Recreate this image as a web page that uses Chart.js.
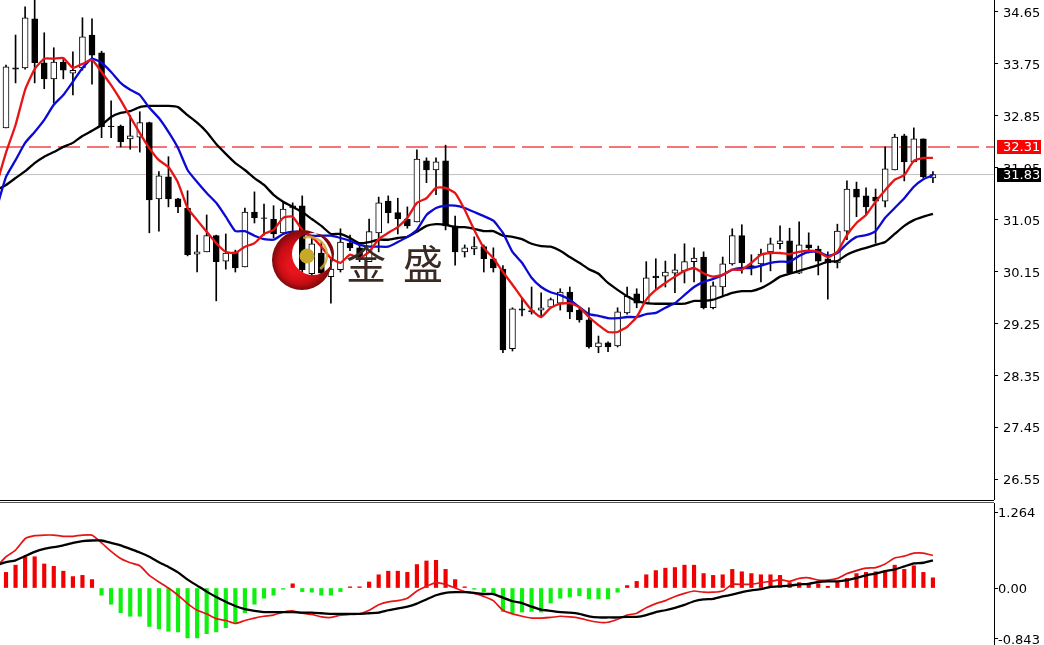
<!DOCTYPE html>
<html>
<head>
<meta charset="utf-8">
<script src="https://cdn.jsdelivr.net/npm/chart.js@4"></script>
<style>
html, body { margin: 0; padding: 0; background: #fff; overflow: hidden; }
canvas { position: absolute; left: 0; }
#priceChart { top: 0; }
#macdChart { top: 503px; }
.sep { position: absolute; left: 0; width: 994px; height: 1px; }
</style>
</head>
<body>
<canvas id="priceChart" width="1044" height="500"></canvas>
<div class="sep" style="top:500px;background:#000"></div>
<div class="sep" style="top:502px;background:#555"></div>
<canvas id="macdChart" width="1044" height="142"></canvas>
<script>
const opens = [32.64,33.68,33.68,34.53,33.77,33.49,33.78,33.59,33.68,34.25,
    33.94,32.67,32.67,32.45,32.48,32.73,31.41,31.79,31.41,31.25,
    30.45,30.49,30.77,30.33,30.49,30.23,31.18,31.08,31.06,30.82,
    31.25,31.29,30.11,30.47,30.06,30.18,30.64,30.56,30.32,30.82,
    31.37,31.17,31.06,31.01,32.07,31.91,32.07,30.94,30.49,30.54,
    30.58,30.37,30.19,28.81,29.50,29.47,29.48,29.53,29.60,29.79,
    29.48,29.31,28.84,28.91,28.86,29.43,29.76,29.60,30.07,30.07,
    30.12,30.16,30.32,30.40,29.52,29.88,30.28,30.77,30.25,30.28,
    30.49,30.63,30.68,30.12,30.61,30.54,30.37,30.30,30.85,31.58,
    31.46,31.44,31.37,31.91,32.50,32.05,32.45,31.77];
const closes = [33.70,33.66,34.55,33.77,33.49,33.78,33.64,33.64,34.22,33.90,
    32.66,32.66,32.40,32.50,32.73,31.39,31.81,31.41,31.27,30.44,
    30.49,30.77,30.32,30.47,30.21,31.18,31.08,31.07,30.80,31.23,
    31.29,30.18,30.63,30.12,30.19,30.66,30.56,30.38,30.84,31.34,
    31.17,31.06,30.94,32.10,31.91,32.05,30.94,30.49,30.56,30.58,
    30.37,30.21,28.79,29.50,29.48,29.45,29.52,29.66,29.79,29.45,
    29.31,28.84,28.91,28.84,29.45,29.72,29.60,30.04,30.04,30.14,
    30.18,30.32,30.38,29.52,29.90,30.28,30.77,30.30,30.21,30.45,
    30.63,30.68,30.12,30.61,30.56,30.33,30.30,30.85,31.58,31.44,
    31.27,31.37,31.93,32.48,32.05,32.45,31.79,31.83];
const highs = [33.73,34.25,34.74,34.86,34.29,34.03,33.85,33.96,34.55,34.53,
    33.97,33.11,32.69,32.86,32.92,32.74,31.88,32.14,31.42,31.55,
    30.78,31.13,30.78,30.80,30.52,31.25,31.53,31.32,31.29,31.36,
    31.34,31.46,30.75,30.66,30.38,30.89,30.78,30.64,31.06,31.44,
    31.46,31.42,31.27,32.26,32.12,32.12,32.34,31.11,30.61,30.75,
    30.61,30.56,30.25,29.52,29.69,29.88,29.78,29.69,29.85,29.88,
    29.52,29.52,29.03,28.93,29.52,29.88,29.85,30.32,30.37,30.33,
    30.45,30.63,30.56,30.49,29.97,30.40,30.89,30.96,30.44,30.54,
    30.73,30.94,30.90,31.01,30.82,30.59,30.49,30.97,31.72,31.70,
    31.60,31.58,32.31,32.53,32.53,32.64,32.45,31.88];
const lows = [32.64,33.42,33.66,33.42,33.32,33.07,33.49,33.21,33.64,33.40,
    32.47,32.47,32.31,32.27,32.22,30.82,30.85,31.27,31.17,30.42,
    30.14,30.49,29.64,30.19,30.14,30.23,30.99,30.78,30.73,30.82,
    30.82,30.14,30.09,30.09,29.60,30.14,30.51,30.32,30.32,30.49,
    30.99,30.80,30.90,31.01,31.69,31.48,30.87,30.26,30.40,30.44,
    30.14,30.14,28.74,28.77,29.38,29.41,29.36,29.52,29.48,29.33,
    29.27,28.82,28.74,28.76,28.84,29.41,29.52,29.59,29.85,29.88,
    29.78,29.95,29.97,29.50,29.50,29.71,30.26,30.12,30.09,29.97,
    30.16,30.54,30.12,30.11,30.47,30.09,29.67,30.21,30.70,31.10,
    31.13,30.64,31.27,31.91,31.72,32.05,31.77,31.69];

// first value of each line belongs to the bar just off the left edge
const maFast = [31.65,32.21,32.69,33.30,33.66,33.84,33.84,33.85,33.68,33.75,33.82,
    33.61,33.38,33.12,32.83,32.55,32.29,32.08,31.96,31.69,31.25,
    31.04,30.84,30.64,30.49,30.47,30.58,30.64,30.80,30.87,31.08,
    31.10,30.87,30.75,30.58,30.38,30.30,30.44,30.38,30.49,30.71,
    30.82,30.92,31.08,31.34,31.42,31.60,31.60,31.51,31.22,30.87,
    30.56,30.38,30.14,29.92,29.69,29.48,29.36,29.52,29.59,29.60,
    29.53,29.36,29.22,29.10,29.10,29.19,29.36,29.66,29.83,29.95,
    30.06,30.16,30.21,30.12,30.06,30.09,30.18,30.18,30.30,30.44,
    30.47,30.47,30.45,30.49,30.51,30.49,30.40,30.49,30.78,30.99,
    31.13,31.36,31.56,31.74,31.82,32.07,32.12,32.12];
const maMid = [31.23,31.79,32.08,32.38,32.57,32.78,33.04,33.21,33.44,33.68,33.84,
    33.77,33.61,33.42,33.30,33.21,32.99,32.81,32.57,32.29,31.91,
    31.70,31.51,31.34,31.10,30.85,30.85,30.77,30.71,30.70,30.80,
    30.84,30.82,30.77,30.77,30.77,30.73,30.68,30.61,30.58,30.58,
    30.58,30.66,30.75,30.87,31.13,31.25,31.29,31.29,31.25,31.18,
    31.11,31.03,30.82,30.49,30.30,30.04,29.88,29.79,29.74,29.66,
    29.53,29.41,29.38,29.34,29.34,29.36,29.36,29.41,29.43,29.52,
    29.60,29.74,29.88,29.97,30.02,30.09,30.18,30.21,30.21,30.25,
    30.30,30.32,30.32,30.42,30.49,30.49,30.42,30.47,30.63,30.75,
    30.78,30.85,31.08,31.25,31.42,31.62,31.75,31.82];
const maSlow = [31.56,31.65,31.77,31.89,32.03,32.14,32.22,32.31,32.38,32.50,32.59,
    32.69,32.83,32.90,32.93,33.00,33.02,33.02,33.02,33.00,32.86,
    32.73,32.57,32.36,32.19,32.03,31.91,31.77,31.65,31.48,31.36,
    31.27,31.18,31.06,30.94,30.80,30.80,30.73,30.64,30.66,30.70,
    30.70,30.73,30.75,30.84,30.94,30.97,30.96,30.92,30.92,30.89,
    30.85,30.85,30.77,30.75,30.71,30.63,30.59,30.58,30.51,30.40,
    30.30,30.19,30.11,29.95,29.83,29.72,29.64,29.60,29.59,29.59,
    29.59,29.59,29.64,29.64,29.66,29.72,29.78,29.81,29.81,29.86,
    29.95,30.06,30.11,30.16,30.21,30.26,30.32,30.33,30.44,30.51,
    30.56,30.61,30.66,30.80,30.94,31.04,31.10,31.15];

const macdHist = [.26,.38,.52,.52,.40,.36,.28,.19,.21,.14,
    -.12,-.27,-.41,-.47,-.47,-.64,-.68,-.72,-.73,-.83,
    -.83,-.76,-.73,-.66,-.59,-.41,-.27,-.17,-.12,-.02,
    .07,-.06,-.07,-.12,-.12,-.06,.02,.02,.10,.22,
    .28,.28,.26,.39,.45,.46,.31,.14,.02,-.02,
    -.07,-.10,-.39,-.41,-.40,-.39,-.40,-.25,-.17,-.15,
    -.13,-.18,-.18,-.18,-.07,.04,.11,.22,.29,.33,
    .34,.38,.38,.24,.21,.22,.31,.27,.24,.22,
    .22,.21,.09,.09,.08,.07,.03,.11,.16,.24,
    .26,.27,.29,.38,.31,.37,.26,.17];
const macdFast = [.35,.52,.63,.82,.87,.88,.88,.86,.86,.88,.88,
    .75,.61,.49,.42,.37,.21,.10,0,-.12,-.26,
    -.37,-.43,-.51,-.54,-.59,-.54,-.50,-.47,-.45,-.40,
    -.38,-.42,-.44,-.48,-.49,-.45,-.44,-.43,-.37,-.28,
    -.23,-.21,-.17,-.05,.03,.09,.06,0,-.06,-.09,
    -.14,-.21,-.37,-.43,-.47,-.50,-.50,-.49,-.47,-.48,
    -.50,-.54,-.57,-.57,-.52,-.45,-.42,-.33,-.26,-.21,
    -.14,-.09,-.05,-.07,-.07,-.05,.06,.06,.06,.09,
    .11,.14,.11,.16,.17,.13,.13,.16,.24,.29,
    .33,.34,.40,.50,.53,.58,.58,.54];
const macdSignal = [.38,.43,.46,.53,.60,.65,.68,.71,.75,.78,.79,
    .79,.75,.71,.65,.59,.52,.43,.35,.26,.14,
    .04,-.06,-.15,-.23,-.30,-.35,-.38,-.40,-.40,-.40,
    -.40,-.41,-.41,-.42,-.43,-.43,-.43,-.43,-.42,-.41,
    -.37,-.34,-.31,-.26,-.19,-.12,-.08,-.07,-.07,-.08,
    -.10,-.10,-.16,-.22,-.25,-.31,-.36,-.38,-.40,-.41,
    -.43,-.47,-.49,-.49,-.49,-.48,-.48,-.45,-.40,-.37,
    -.33,-.28,-.22,-.19,-.18,-.14,-.11,-.07,-.04,-.02,
    .02,.03,.04,.06,.07,.10,.11,.11,.13,.17,
    .21,.24,.28,.31,.36,.41,.42,.46];

const priceTicks = [34.65,33.75,32.85,31.95,31.05,30.15,29.25,28.35,27.45,26.55];
const macdTicks = [1.264,0,-0.843];
const macdTickLabels = ['1.264','0.00','-0.843'];
const levelRed = 32.31;
const levelLast = 31.83;

// x range puts bar 0 at 6px and keeps MT4 spacing of the plot
const xMin = -0.628;
const xMax = 103.39;
const axisFont = { family: '"DejaVu Sans"', size: 13 };

const xs = opens.map((v, i) => i);
const pts = arr => arr.map((v, i) => ({ x: i - 1, y: v }));
const lineSet = (data, color, width, order) => ({
    type: 'line', data: pts(data), borderColor: color, borderWidth: width,
    pointRadius: 0, tension: 0.15, order: order
});
const levelSet = (v, color, width, dash) => ({
    type: 'line', data: [{ x: xMin, y: v }, { x: xMax, y: v }], borderColor: color,
    borderWidth: width, borderDash: dash, pointRadius: 0, order: 6
});

function fixAxis(width) {
    return function (scale) {
        scale.width = width;
        scale.paddingTop = 0;
        scale.paddingBottom = 0;
    };
}

const xScale = { type: 'linear', display: false, offset: false, min: xMin, max: xMax };

// logo and watermark are stamped over the finished chart
const watermark = {
    id: 'watermark',
    afterDatasetsDraw(chart) {
        const c = chart.ctx;
        c.save();
        const g = c.createRadialGradient(296, 266, 8, 302, 260, 30);
        g.addColorStop(0, '#e8141c');
        g.addColorStop(0.6, '#c80c14');
        g.addColorStop(1, '#7a0a0c');
        c.fillStyle = g;
        c.beginPath();
        c.arc(302, 260, 30, 0, Math.PI * 2);
        c.arc(313, 254, 21, 0, Math.PI * 2, true);
        c.fill('evenodd');
        c.fillStyle = '#c8a828';
        c.beginPath();
        c.arc(307, 256, 7.5, 0, Math.PI * 2);
        c.fill();
        c.strokeStyle = 'rgba(200,168,56,0.85)';
        c.lineWidth = 2.5;
        c.beginPath();
        c.arc(309, 255, 18, -1.9, 0.9);
        c.stroke();
        c.fillStyle = '#3a2a22';
        c.textBaseline = 'alphabetic';
        c.textAlign = 'left';
        c.font = '40px "Noto Sans CJK SC"';
        c.fillText('金', 346, 279);
        c.fillText('盛', 403, 279);
        c.restore();
    }
};

// price tags on the axis
const priceTags = {
    id: 'priceTags',
    afterDraw(chart) {
        const c = chart.ctx;
        const y = chart.scales.y;
        [[levelRed, '#ff0000'], [levelLast, '#000000']].forEach(function (t) {
            const py = Math.round(y.getPixelForValue(t[0]));
            c.fillStyle = t[1];
            c.fillRect(997, py - 7, 44, 14);
            c.fillStyle = '#ffffff';
            c.font = '13px "DejaVu Sans"';
            c.textAlign = 'left';
            c.textBaseline = 'middle';
            c.fillText(t[0].toFixed(2), 1003, py + 1);
        });
    }
};

new Chart(document.getElementById('priceChart'), {
    type: 'bar',
    data: {
        datasets: [
            lineSet(maFast, '#e61414', 2.3, 1),
            lineSet(maMid, '#0a0ad2', 2.3, 2),
            lineSet(maSlow, '#000000', 2.3, 3),
            {
                label: 'body',
                data: xs.map(i => ({ x: i, y: [opens[i], closes[i]] })),
                backgroundColor: xs.map(i => closes[i] >= opens[i] ? '#ffffff' : '#000000'),
                borderColor: '#000000',
                borderWidth: 1,
                borderSkipped: false,
                barThickness: 6,
                grouped: false,
                order: 4
            },
            {
                label: 'wick',
                data: xs.map(i => ({ x: i, y: [lows[i], highs[i]] })),
                backgroundColor: '#000000',
                barThickness: 1,
                grouped: false,
                order: 5
            },
            levelSet(levelRed, '#f04848', 1.5, [22, 7]),
            levelSet(levelLast, '#c0c0c0', 1, [])
        ]
    },
    options: {
        responsive: false,
        animation: false,
        plugins: { legend: { display: false }, tooltip: { enabled: false } },
        scales: {
            x: xScale,
            y: {
                position: 'right',
                min: 26.186,
                max: 34.858,
                afterFit: fixAxis(50),
                afterBuildTicks: s => { s.ticks = priceTicks.map(v => ({ value: v })); },
                border: { color: '#000000', width: 1 },
                grid: { drawOnChartArea: false, tickColor: '#000000', tickLength: 4 },
                ticks: {
                    autoSkip: false, color: '#000000', font: axisFont, padding: 5, labelOffset: 2,
                    callback: v => v.toFixed(2)
                }
            }
        }
    },
    plugins: [watermark, priceTags]
});

new Chart(document.getElementById('macdChart'), {
    type: 'bar',
    data: {
        datasets: [
            lineSet(macdSignal, '#000000', 2.3, 1),
            lineSet(macdFast, '#e61414', 1.7, 2),
            {
                label: 'hist',
                data: xs.map(i => ({ x: i, y: macdHist[i] })),
                backgroundColor: macdHist.map(v => v >= 0 ? '#f00000' : '#10f010'),
                barThickness: 3.5,
                grouped: false,
                order: 3
            }
        ]
    },
    options: {
        responsive: false,
        animation: false,
        plugins: { legend: { display: false }, tooltip: { enabled: false } },
        scales: {
            x: xScale,
            y: {
                position: 'right',
                min: -0.948,
                max: 1.414,
                afterFit: fixAxis(50),
                afterBuildTicks: s => { s.ticks = macdTicks.map(v => ({ value: v })); },
                border: { color: '#000000', width: 1 },
                grid: { drawOnChartArea: false, tickColor: '#000000', tickLength: 4 },
                ticks: {
                    autoSkip: false, color: '#000000', font: axisFont, padding: 0, labelOffset: 1.5,
                    callback: v => macdTickLabels[macdTicks.indexOf(v)]
                }
            }
        }
    }
});
</script>
</body>
</html>
